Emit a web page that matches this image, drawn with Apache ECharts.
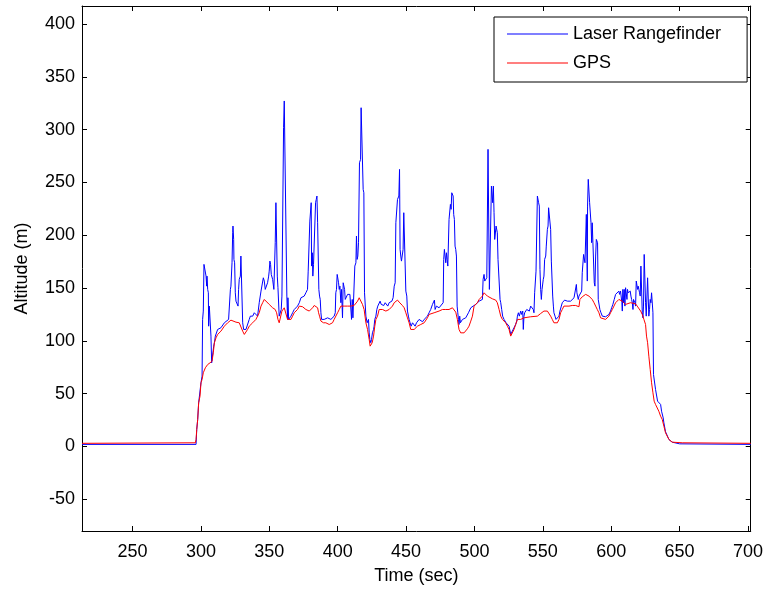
<!DOCTYPE html>
<html>
<head>
<meta charset="utf-8">
<script src="https://cdn.jsdelivr.net/npm/echarts@6/dist/echarts.min.js"></script>
<style>
html,body{margin:0;padding:0;background:#fff;}
#chart{width:766px;height:590px;}
</style>
</head>
<body>
<div id="chart"></div>
<script>
// ---- data (time in sec, altitude in m) ----
var seriesNames = ['Laser Rangefinder', 'GPS'];
var xTitle = 'Time (sec)';
var yTitle = 'Altitude (m)';
var xRange = [213, 702];
var yRange = [-80, 417];

var laserData = [
[213,2],[296.4,2],[296.9,16.1],[297.6,25.6],[298.3,41.3],[300.0,60.3],[300.8,66.6],[301.2,120.3],[301.7,128.2],[302.2,172.4],
[303.2,170.8],[303.7,161.3],[304.2,151.8],[304.4,161.3],[304.9,148.7],[305.4,145.5],[305.6,113.9],[306.1,132.9],[306.8,131.3],[307.3,104.5],
[307.8,79.2],[308.5,79.2],[309.3,95.0],[309.8,98.2],[310.5,104.5],[312.2,110.8],[312.9,112.4],[314.6,112.4],[315.9,113.9],[317.1,117.1],
[318.3,118.7],[320.2,120.3],[321.2,121.8],[321.5,148.7],[321.9,151.8],[322.7,173.9],[323.2,202.4],[323.4,208.7],[323.9,196.0],[324.1,177.1],
[324.6,173.9],[325.1,145.5],[325.6,137.6],[326.3,139.2],[327.1,132.9],[327.5,148.7],[328.0,158.2],[328.8,161.3],[329.2,180.3],[330.0,180.3],
[330.5,117.1],[331.2,110.8],[331.7,109.2],[332.9,110.8],[334.1,112.4],[335.3,120.3],[336.1,123.4],[336.5,121.8],[337.8,123.4],[339.0,126.6],
[340.2,128.2],[341.4,123.4],[342.6,136.1],[343.4,136.1],[343.9,147.1],[344.6,148.7],[345.6,159.7],[346.3,156.6],[347.0,148.7],[348.0,150.3],
[348.7,155.0],[349.5,161.3],[349.9,166.0],[350.4,175.5],[350.9,172.4],[351.4,162.9],[352.4,158.2],[353.3,148.7],[353.8,150.3],[354.3,192.9],
[354.8,230.8],[355.3,230.8],[355.8,161.3],[356.3,150.3],[357.2,123.4],[358.2,123.4],[358.7,129.7],[359.2,142.4],[359.9,144.0],[360.4,301.8],
[360.9,327.1],[361.9,327.1],[362.8,142.4],[363.3,120.3],[363.6,140.8],[364.1,120.3],[364.8,120.3],[365.8,123.4],[367.0,126.6],[368.2,129.7],
[369.4,129.7],[370.6,132.9],[371.9,136.1],[373.1,140.8],[374.3,140.8],[375.5,142.4],[376.7,145.5],[377.9,148.7],[378.4,166.0],[379.2,166.0],
[379.6,213.4],[380.1,211.8],[380.6,230.8],[380.9,170.8],[381.4,183.4],[381.8,161.3],[382.3,172.4],[383.3,173.9],[383.8,230.8],[384.3,233.9],
[384.8,237.1],[385.3,211.8],[385.7,211.8],[386.2,148.7],[386.7,142.4],[387.2,139.2],[387.7,126.6],[388.2,120.3],[390.1,120.3],[391.3,121.8],
[392.6,121.8],[395.0,120.3],[396.2,120.3],[397.4,123.4],[398.2,126.6],[398.6,145.5],[399.1,148.7],[399.6,162.9],[400.1,161.3],[400.6,155.0],
[401.1,148.7],[401.6,151.8],[402.3,136.1],[402.8,148.7],[403.5,121.8],[404.0,155.0],[404.5,153.4],[405.0,148.7],[405.5,139.2],[406.2,137.6],
[407.2,144.0],[408.1,145.5],[408.9,144.0],[409.6,142.4],[410.1,120.3],[410.6,139.2],[411.1,121.8],[412.0,120.3],[412.5,170.8],[413.3,173.9],
[413.7,199.2],[414.2,177.1],[414.7,180.3],[415.2,192.9],[415.9,268.6],[416.7,271.8],[417.1,320.7],[418.1,320.7],[418.6,243.4],[419.1,240.2],
[419.6,145.5],[420.1,144.0],[420.6,123.4],[421.0,123.4],[421.5,117.1],[422.0,118.7],[422.5,120.3],[423.0,107.6],[423.5,101.3],[424.2,98.2],
[424.7,101.3],[425.4,107.6],[426.2,110.8],[426.6,113.9],[427.1,120.3],[427.9,123.4],[428.6,129.7],[429.3,132.9],[430.3,134.5],[431.0,137.6],
[431.8,134.5],[432.7,136.1],[433.7,133.5],[434.7,136.1],[435.7,134.5],[436.6,132.9],[437.6,136.1],[438.6,134.5],[439.6,137.6],[440.5,140.8],
[441.3,151.8],[442.0,155.0],[442.5,211.8],[443.2,211.8],[443.7,233.9],[444.7,237.1],[445.2,262.3],[445.4,262.3],[445.6,186.6],[446.1,180.3],
[446.6,175.5],[447.3,175.5],[447.8,186.6],[448.3,221.3],[449.5,221.3],[449.8,147.1],[450.5,142.4],[451.0,128.2],[451.7,123.4],[452.2,120.3],
[452.9,117.1],[453.7,113.9],[454.7,117.1],[455.9,117.1],[456.6,113.9],[457.6,117.1],[458.5,118.7],[459.5,120.3],[460.7,119.3],[462.0,118.1],
[463.2,120.3],[464.4,121.8],[465.6,123.4],[466.8,126.6],[468.0,129.7],[469.3,134.5],[470.0,136.1],[470.7,138.6],[471.2,129.7],[472.2,132.9],
[472.9,131.3],[474.1,131.3],[475.3,132.9],[477.1,136.1],[477.5,177.1],[478.0,186.6],[478.5,188.1],[479.0,173.9],[479.5,183.4],[480.0,177.1],
[480.5,170.8],[480.9,172.4],[481.4,215.0],[481.9,215.0],[482.4,229.2],[482.9,224.5],[483.4,240.2],[484.4,237.1],[484.8,219.7],[485.3,215.0],
[485.8,189.7],[486.3,186.6],[486.8,180.3],[487.3,132.9],[487.8,126.6],[488.3,120.3],[488.7,115.5],[489.2,123.4],[489.7,117.1],[491.2,120.3],
[493.6,121.8],[494.8,122.8],[495.6,126.6],[496.5,128.2],[497.3,131.3],[498.0,129.7],[499.0,132.9],[499.7,132.9],[500.9,134.5],[502.1,136.1],
[503.4,137.6],[504.6,136.1],[505.8,139.2],[506.3,158.2],[507.0,162.9],[507.5,156.6],[508.2,155.0],[509.0,159.7],[509.4,158.2],[509.9,281.3],
[510.4,282.9],[510.9,148.7],[511.9,148.7],[512.4,246.5],[512.8,246.5],[513.3,230.8],[513.8,246.5],[514.3,221.3],[514.8,196.0],[515.3,194.5],
[515.8,208.7],[516.3,208.7],[516.7,202.4],[517.2,177.1],[518.0,175.5],[518.7,139.2],[519.2,136.1],[519.9,129.7],[520.6,123.4],[521.6,120.3],
[522.3,118.7],[523.1,117.1],[524.1,115.5],[525.3,113.9],[526.5,106.1],[527.2,106.1],[527.9,107.6],[528.9,112.4],[530.1,115.5],[530.9,118.7],
[531.4,123.4],[532.1,126.6],[532.8,123.4],[533.8,128.2],[534.5,125.0],[535.3,128.2],[535.7,110.8],[536.2,123.4],[536.7,126.6],[537.4,128.2],
[538.2,129.7],[539.1,131.3],[540.1,128.2],[541.1,132.9],[542.3,132.9],[543.0,129.7],[543.5,126.6],[544.0,145.5],[544.5,147.1],[545.0,166.0],
[545.5,167.6],[546.0,237.1],[546.5,237.1],[546.9,230.8],[547.4,227.6],[547.9,167.6],[548.4,148.7],[548.9,139.2],[549.4,148.7],[549.9,148.7],
[550.3,158.2],[550.8,161.3],[551.3,177.1],[552.1,180.3],[552.5,189.7],[553.3,205.5],[553.8,208.7],[554.2,226.0],[555.2,227.6],[555.7,205.5],
[556.2,175.5],[556.7,175.5],[557.2,142.4],[557.7,132.9],[558.1,126.6],[558.9,123.4],[559.6,120.3],[560.6,120.9],[561.8,123.4],[562.5,128.2],
[563.5,132.9],[564.2,136.1],[564.9,137.6],[565.9,138.6],[567.9,137.6],[569.1,138.6],[570.3,137.6],[571.5,139.2],[572.8,140.8],[574.0,142.4],
[574.5,153.4],[574.9,145.5],[575.4,142.4],[575.9,139.2],[576.4,142.4],[577.6,144.0],[578.4,147.1],[578.8,164.5],[579.3,166.0],[579.8,181.8],
[580.3,183.4],[580.8,173.9],[581.3,173.9],[581.8,219.7],[582.2,219.7],[582.5,156.6],[582.7,227.6],[583.2,252.9],[583.7,252.9],[584.2,230.8],
[584.7,229.2],[585.2,211.8],[585.7,192.9],[586.1,211.8],[586.6,192.9],[587.1,194.5],[587.6,155.0],[588.1,151.8],[588.6,180.3],[589.1,196.0],
[589.6,194.5],[590.0,192.9],[590.5,139.2],[591.0,137.6],[591.7,129.7],[592.5,126.6],[593.5,123.4],[594.7,122.8],[595.9,122.8],[597.1,123.4],
[598.3,125.0],[599.5,128.2],[600.3,131.3],[601.2,134.5],[602.2,139.2],[603.2,144.0],[604.4,145.5],[605.6,147.1],[606.1,144.0],[606.8,147.1],
[607.3,148.7],[607.8,136.1],[608.1,128.2],[608.5,148.7],[609.0,136.1],[609.5,148.7],[610.0,132.9],[610.5,150.3],[611.0,148.7],[611.5,139.2],
[611.9,148.7],[612.4,145.5],[612.9,144.0],[613.4,145.5],[613.9,147.1],[614.4,142.4],[614.9,139.2],[615.4,136.1],[615.9,129.7],[616.3,139.2],
[617.3,136.1],[617.8,132.9],[618.3,156.6],[618.8,155.0],[619.3,148.7],[619.7,151.8],[620.2,148.7],[620.7,145.5],[621.2,142.4],[621.7,170.8],
[622.2,172.4],[622.7,126.6],[623.2,121.8],[623.6,132.9],[624.1,181.8],[624.6,180.3],[625.1,136.1],[625.6,123.4],[626.1,121.8],[626.6,159.7],
[627.1,158.2],[627.5,123.4],[628.0,129.7],[628.5,139.2],[629.0,136.1],[629.5,145.5],[630.5,126.6],[630.9,68.2],[631.9,66.6],[632.4,54.0],
[633.4,52.4],[633.9,42.9],[636.1,39.8],[636.8,33.4],[638.0,27.1],[638.5,22.4],[639.7,14.0],[642.2,6.6],[644.6,4.1],[650.0,2.5],
[702,2]
];

var gpsData = [
[213,3],[295.9,3.5],[296.4,6.6],[296.9,16.1],[297.6,25.6],[298.3,41.3],[299.3,47.7],[300.0,60.3],[300.8,63.4],[301.7,69.8],
[303.2,74.5],[304.9,77.6],[306.6,79.2],[308.1,80.8],[309.0,88.7],[309.8,98.2],[311.0,102.9],[312.2,106.1],[314.6,109.2],[317.1,113.9],
[319.5,117.1],[320.7,118.7],[321.9,119.6],[323.2,118.7],[325.6,117.7],[328.0,117.1],[329.2,115.5],[330.5,109.2],[331.7,106.1],[332.9,107.6],
[334.1,110.8],[335.3,113.9],[337.8,117.1],[340.2,120.3],[342.6,126.6],[343.9,132.9],[345.1,136.1],[346.3,139.2],[347.5,137.6],[349.9,134.5],
[352.4,131.3],[354.3,129.7],[355.3,126.6],[356.3,120.3],[357.2,117.1],[358.2,118.7],[359.2,128.2],[360.2,129.7],[360.9,131.3],[362.1,129.7],
[363.3,120.3],[364.6,118.7],[365.8,120.3],[367.0,123.4],[368.2,126.6],[369.4,128.2],[370.6,129.7],[371.9,132.9],[373.1,133.5],[374.3,132.3],
[375.5,131.3],[376.7,129.7],[377.9,129.7],[379.2,128.2],[380.4,129.7],[381.6,131.3],[382.8,133.5],[384.0,134.5],[385.3,131.3],[386.0,126.6],
[386.7,123.4],[387.7,118.7],[388.4,117.1],[389.6,117.1],[390.6,115.5],[391.3,117.1],[392.6,117.1],[393.8,115.5],[395.0,114.6],[396.2,117.1],
[397.4,120.3],[398.6,121.8],[399.9,126.6],[401.1,129.7],[402.3,132.9],[403.5,134.5],[404.7,132.9],[405.9,131.3],[407.2,132.9],[409.6,132.9],
[412.0,133.5],[413.3,134.5],[414.5,137.6],[415.7,140.8],[416.9,139.2],[418.1,134.5],[419.3,129.7],[420.6,117.1],[421.8,110.8],[423.0,101.3],
[423.7,95.0],[424.5,93.4],[425.2,98.2],[426.2,104.5],[427.1,113.9],[427.9,120.3],[429.1,123.4],[430.3,129.7],[431.5,129.1],[432.7,129.7],
[434.0,129.1],[435.2,128.2],[436.4,128.2],[437.6,129.7],[438.8,130.4],[440.0,132.9],[441.3,136.1],[442.5,137.6],[443.7,138.6],[444.9,136.7],
[446.1,135.4],[447.3,133.5],[448.6,131.3],[449.8,126.6],[451.0,121.8],[452.2,117.1],[453.4,110.8],[454.7,109.2],[455.9,110.8],[457.1,112.4],
[458.3,113.9],[460.7,115.5],[463.2,117.1],[464.4,118.7],[465.6,121.8],[466.8,125.0],[468.0,126.6],[470.5,126.6],[474.1,128.2],[476.6,129.7],
[479.0,129.7],[480.2,131.3],[481.4,129.7],[483.9,131.3],[485.1,129.7],[486.3,127.2],[487.5,120.3],[488.7,110.8],[489.9,107.6],[491.2,106.7],
[492.4,107.6],[493.6,109.2],[494.8,111.4],[496.0,113.9],[497.3,118.7],[498.5,123.4],[499.7,132.9],[500.9,133.5],[502.1,136.1],[503.4,139.2],
[504.6,140.8],[505.8,142.4],[507.0,145.5],[508.2,144.9],[509.4,142.4],[510.7,140.8],[513.1,139.8],[515.5,138.6],[516.7,136.1],[518.0,129.7],
[519.2,123.4],[520.4,120.3],[521.6,118.7],[522.8,117.1],[524.1,113.9],[525.3,110.8],[526.5,104.5],[527.7,104.5],[528.9,110.8],[530.1,115.5],
[531.4,120.3],[532.6,121.8],[533.8,120.3],[536.2,121.8],[541.1,122.8],[546.0,123.4],[548.4,125.9],[550.8,128.2],[552.1,129.7],[553.3,128.2],
[554.5,126.6],[555.7,123.4],[556.9,120.3],[558.1,117.1],[559.4,115.5],[560.6,117.1],[561.8,120.3],[563.0,126.6],[564.2,129.7],[565.4,132.9],
[566.7,133.5],[569.1,132.9],[571.5,133.5],[574.0,133.5],[576.4,132.3],[577.1,139.2],[577.9,140.8],[578.8,141.7],[580.1,142.4],[581.3,144.0],
[582.5,143.0],[583.7,142.4],[584.9,140.8],[586.1,139.2],[587.4,136.1],[588.6,132.9],[589.8,129.7],[591.0,126.6],[592.2,121.8],[593.5,120.9],
[595.9,120.3],[597.1,120.9],[598.3,123.4],[599.5,126.6],[600.8,129.7],[602.0,132.9],[603.2,136.1],[604.4,137.6],[605.6,139.2],[606.8,139.2],
[608.1,137.6],[609.3,136.1],[610.5,134.5],[611.7,136.1],[614.1,136.1],[615.4,136.7],[617.8,135.1],[619.0,132.9],[620.2,131.3],[621.5,128.2],
[622.7,125.0],[623.9,120.3],[625.1,115.5],[625.8,104.5],[626.6,98.2],[627.5,85.5],[628.5,72.9],[629.5,60.3],[630.5,50.8],[631.4,42.9],
[632.4,39.8],[633.6,38.2],[634.8,33.4],[636.1,28.7],[637.3,25.6],[638.5,19.2],[639.7,13.0],[642.2,6.6],[644.6,4.1],[651.9,3.5],
[702,3]
];

var seriesColors = ['#0000ff', '#ff0000'];

var chart = echarts.init(document.getElementById('chart'), null, {renderer: 'canvas'});
var FONT = 'Liberation Sans, Arial, sans-serif';
var FS = 18;

function baseAxis(extra) {
  var a = {
    type: 'value',
    splitNumber: 10,
    scale: true,
    axisLine: {show: true, onZero: false, lineStyle: {color: '#000', width: 1}},
    axisTick: {show: true, inside: true, length: 5, lineStyle: {color: '#000', width: 1}},
    splitLine: {show: false},
    axisLabel: {show: true, color: '#000', fontFamily: FONT, fontSize: FS, showMinLabel: false, showMaxLabel: false}
  };
  for (var k in extra) a[k] = extra[k];
  return a;
}

var option = {
  animation: false,
  backgroundColor: '#fff',
  grid: {left: 82, right: 14, top: 6, bottom: 59, containLabel: false},
  legend: {
    orient: 'vertical',
    left: 494, top: 17,
    padding: [8, 26, 10, 13],
    itemWidth: 61, itemHeight: 1, itemGap: 11,
    icon: 'rect',
    itemStyle: {borderWidth: 0},
    backgroundColor: '#fff',
    borderColor: '#000', borderWidth: 1, borderRadius: 0,
    textStyle: {color: '#000', fontFamily: FONT, fontSize: FS, lineHeight: 18},
    data: [seriesNames[0], seriesNames[1]]
  },
  xAxis: [
    baseAxis({min: xRange[0], max: xRange[1], position: 'bottom',
      name: xTitle, nameLocation: 'middle', nameGap: 36,
      nameTextStyle: {color: '#000', fontFamily: FONT, fontSize: FS},
      axisLabel: {show: true, color: '#000', fontFamily: FONT, fontSize: FS, margin: 12, showMinLabel: false, showMaxLabel: false}}),
    baseAxis({min: xRange[0], max: xRange[1], position: 'top',
      axisLabel: {show: false}})
  ],
  yAxis: [
    baseAxis({min: yRange[0], max: yRange[1], position: 'left',
      name: yTitle, nameLocation: 'middle', nameGap: 51, nameRotate: 90,
      nameTextStyle: {color: '#000', fontFamily: FONT, fontSize: FS},
      axisLabel: {show: true, color: '#000', fontFamily: FONT, fontSize: FS, margin: 7, showMinLabel: false, showMaxLabel: false}}),
    baseAxis({min: yRange[0], max: yRange[1], position: 'right',
      axisLabel: {show: false}})
  ],
  series: [
    {
      name: seriesNames[0], type: 'line', xAxisIndex: 0, yAxisIndex: 0,
      data: laserData, showSymbol: false, symbol: 'none',
      lineStyle: {color: seriesColors[0], width: 1}, itemStyle: {color: seriesColors[0]},
      emphasis: {disabled: true}
    },
    {
      name: seriesNames[1], type: 'line', xAxisIndex: 0, yAxisIndex: 0,
      data: gpsData, showSymbol: false, symbol: 'none',
      lineStyle: {color: seriesColors[1], width: 1}, itemStyle: {color: seriesColors[1]},
      emphasis: {disabled: true}
    }
  ]
};
chart.setOption(option);
</script>
</body>
</html>
